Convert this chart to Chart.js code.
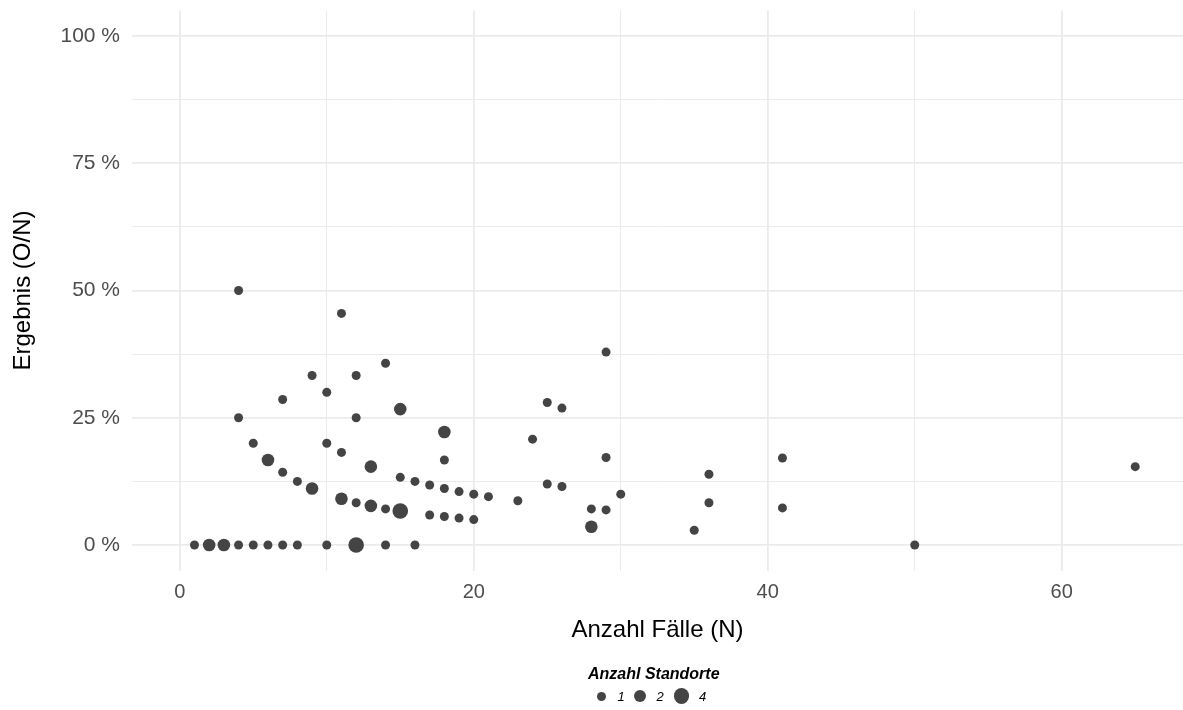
<!DOCTYPE html>
<html>
<head>
<meta charset="utf-8">
<script src="https://cdn.jsdelivr.net/npm/chart.js@4.4.1/dist/chart.umd.min.js"></script>
<style>
    body { margin: 0; background: #fff; }
    #wrap { position: relative; width: 1183px; height: 710px; font-family: "Liberation Sans", Arial, Helvetica, sans-serif; }
    #grafico { position: absolute; left: 0; top: 0; }
    #legendeTitel { position: absolute; left: 588px; top: 665px; font-size: 16px; font-weight: bold; font-style: italic; color: #000; white-space: nowrap; }
    .punkt { position: absolute; border-radius: 50%; background: #444; }
    .label { position: absolute; font-size: 13px; font-style: italic; color: #000; transform: translate(-50%, -50%); }
</style>
</head>
<body>
<div id="wrap">
    <canvas id="grafico" width="1183" height="710"></canvas>
    <div id="legendeTitel">Anzahl Standorte</div>
</div>
<script>
// Anzahl Fälle (N), Ergebnis in %, Anzahl Standorte
const faelle = [4, 11, 14, 9, 12, 7, 10, 15, 4, 12, 18, 5, 10, 11, 18, 6, 13, 7, 15, 16, 8, 17, 18, 19, 20, 21,
    9, 11, 12, 13, 14, 15, 17, 18, 19, 20,
    1, 2, 3, 4, 5, 6, 7, 8, 10, 12, 14, 16,
    29, 25, 26, 24, 29, 36, 41, 23, 25, 26, 30, 28, 29, 28, 36, 35, 41, 50, 65];
const ergebnis = [50.0, 45.5, 35.7, 33.3, 33.3, 28.6, 30.0, 26.7, 25.0, 25.0, 22.2, 20.0, 20.0, 18.2, 16.7, 16.7, 15.4, 14.3, 13.3, 12.5, 12.5, 11.8, 11.1, 10.5, 10.0, 9.5,
    11.1, 9.1, 8.3, 7.7, 7.1, 6.7, 5.9, 5.6, 5.3, 5.0,
    0, 0, 0, 0, 0, 0, 0, 0, 0, 0, 0, 0,
    37.9, 28.0, 26.9, 20.8, 17.2, 13.9, 17.1, 8.7, 12.0, 11.5, 10.0, 7.1, 6.9, 3.6, 8.3, 2.9, 7.3, 0, 15.4];
const standorte = [1, 1, 1, 1, 1, 1, 1, 2, 1, 1, 2, 1, 1, 1, 1, 2, 2, 1, 1, 1, 1, 1, 1, 1, 1, 1,
    2, 2, 1, 2, 1, 4, 1, 1, 1, 1,
    1, 2, 2, 1, 1, 1, 1, 1, 1, 4, 1, 1,
    1, 1, 1, 1, 1, 1, 1, 1, 1, 1, 1, 1, 1, 2, 1, 1, 1, 1, 1];

const xTicks = [0, 20, 40, 60];
const xMinor = [10, 30, 50];
const yTicks = [0, 25, 50, 75, 100];
const yMinor = [12.5, 37.5, 62.5, 87.5];
const legendeWerte = [1, 2, 4];

const FONT = "'Liberation Sans', Arial, Helvetica, sans-serif";
const PUNKT = '#444444';
const GRID = '#ebebeb';

// radius je Anzahl Standorte
function radius(n) {
    if (n >= 4) return 7.8;
    if (n >= 2) return 6.3;
    return 4.5;
}

const punkte = faelle.map((f, i) => ({ x: f, y: ergebnis[i], n: standorte[i] }));

function ticksSetzen(major, minor) {
    return function (scale) {
        scale.ticks = major.concat(minor).sort((a, b) => a - b).map(v => ({ value: v }));
    };
}

// keine automatische Randpolsterung durch die Achsenbeschriftung
function ohnePadding(s) {
    s.paddingTop = 0;
    s.paddingBottom = 0;
    s.paddingLeft = 0;
    s.paddingRight = 0;
}

const ctx = document.getElementById('grafico').getContext('2d');
new Chart(ctx, {
    type: 'scatter',
    data: {
        datasets: [{
            data: punkte,
            backgroundColor: PUNKT,
            borderWidth: 0,
            pointRadius: c => radius(c.raw ? c.raw.n : 1),
            pointHoverRadius: c => radius(c.raw ? c.raw.n : 1),
        }]
    },
    options: {
        responsive: false,
        animation: false,
        events: [],
        layout: {
            autoPadding: false,
            padding: { top: 10.5, right: 0, bottom: 0, left: 0 }
        },
        scales: {
            x: {
                type: 'linear',
                min: -3.25,
                max: 68.25,
                afterBuildTicks: ticksSetzen(xTicks, xMinor),
                afterFit: s => { s.height = 139.5; ohnePadding(s); },
                border: { display: false },
                grid: {
                    color: GRID,
                    drawTicks: false,
                    lineWidth: c => (c.tick && xMinor.includes(c.tick.value)) ? 1 : 1.8,
                },
                ticks: {
                    autoSkip: false,
                    maxRotation: 0,
                    padding: 9.5,
                    color: '#4d4d4d',
                    font: { size: 20, family: FONT },
                    callback: v => xTicks.includes(v) ? String(v) : '',
                },
                title: {
                    display: true,
                    text: 'Anzahl Fälle (N)',
                    color: '#000',
                    font: { size: 24, family: FONT },
                    padding: { top: 0, bottom: 65.5 },
                }
            },
            y: {
                type: 'linear',
                min: -5,
                max: 105,
                afterBuildTicks: ticksSetzen(yTicks, yMinor),
                afterFit: s => { s.width = 132; ohnePadding(s); },
                border: { display: false },
                grid: {
                    color: GRID,
                    drawTicks: false,
                    lineWidth: c => (c.tick && yMinor.includes(c.tick.value)) ? 1 : 1.8,
                },
                ticks: {
                    autoSkip: false,
                    padding: 12,
                    color: '#4d4d4d',
                    font: { size: 21, family: FONT },
                    callback: v => yTicks.includes(v) ? v + ' %' : '',
                },
                title: {
                    display: true,
                    text: 'Ergebnis (O/N)',
                    color: '#000',
                    font: { size: 24, family: FONT },
                    padding: { top: 8.5, bottom: 0 },
                }
            }
        },
        plugins: {
            legend: { display: false },
            tooltip: { enabled: false },
        }
    }
});

// Legende (Größe = Anzahl Standorte)
const wrap = document.getElementById('wrap');
const punktX = [601, 640, 681.5];
const labelX = [621, 660, 702.5];
const legendeY = 696;
legendeWerte.forEach((w, i) => {
    const r = radius(w);
    const p = document.createElement('div');
    p.className = 'punkt';
    p.style.width = (2 * r) + 'px';
    p.style.height = (2 * r) + 'px';
    p.style.left = (punktX[i] - r) + 'px';
    p.style.top = (legendeY - r) + 'px';
    wrap.appendChild(p);
    const l = document.createElement('div');
    l.className = 'label';
    l.textContent = w;
    l.style.left = labelX[i] + 'px';
    l.style.top = legendeY + 'px';
    wrap.appendChild(l);
});
</script>
</body>
</html>
